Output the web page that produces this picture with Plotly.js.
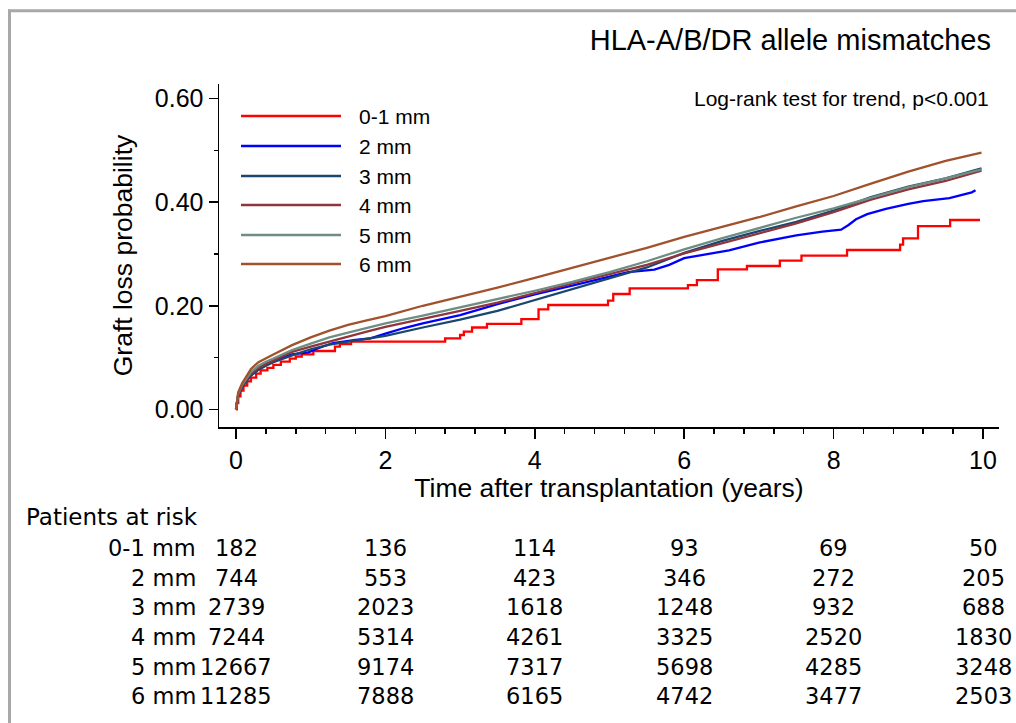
<!DOCTYPE html>
<html><head><meta charset="utf-8">
<script src="https://cdn.plot.ly/plotly-3.0.1.min.js"></script>
<style>html,body{margin:0;padding:0;background:#fff;overflow:hidden;} #chart{width:1016px;height:723px;}</style>
</head><body><div id="chart"></div>
<script>
// ---------- data ----------
const groups = ['0-1 mm', '2 mm', '3 mm', '4 mm', '5 mm', '6 mm'];
const colors = ['#ff0000', '#0000ff', '#1a476f', '#90353b', '#6e8e84', '#a0522d'];

// 0-1 mm (step function)
const t01 = [0, 0.01, 0.03, 0.06, 0.1, 0.15, 0.2, 0.27, 0.33, 0.42, 0.5, 0.6, 0.72, 0.8, 0.88, 1.035, 1.325, 1.39, 1.54, 2.80, 3.0, 3.05, 3.16, 3.36, 3.82, 4.05, 4.18, 4.98, 5.05, 5.27, 6.05, 6.17, 6.45, 6.84, 7.28, 7.57, 8.18, 8.89, 8.93, 9.13, 9.56, 9.96];
const p01 = [0, 0.012, 0.025, 0.036, 0.046, 0.054, 0.061, 0.069, 0.075, 0.080, 0.086, 0.092, 0.098, 0.102, 0.106, 0.1126, 0.121, 0.126, 0.1306, 0.137, 0.1435, 0.150, 0.158, 0.165, 0.174, 0.193, 0.2015, 0.210, 0.2227, 0.2337, 0.240, 0.2497, 0.2704, 0.2768, 0.287, 0.2967, 0.3077, 0.318, 0.330, 0.354, 0.3657, 0.3657];

// 2 mm
const t2 = [0, 0.01, 0.03, 0.08, 0.12, 0.2, 0.3, 0.4, 0.5, 0.75, 0.97, 1.1, 1.3, 1.6, 1.8, 2.0, 2.25, 2.5, 3.0, 3.5, 4.0, 4.5, 4.75, 5.0, 5.25, 5.6, 5.8, 6.0, 6.3, 6.6, 7.0, 7.5, 7.85, 8.1, 8.2, 8.3, 8.45, 8.7, 9.0, 9.2, 9.55, 9.7, 9.85, 9.9];
const p2 = [0, 0.013, 0.028, 0.043, 0.052, 0.066, 0.077, 0.086, 0.093, 0.106, 0.110, 0.118, 0.128, 0.134, 0.137, 0.146, 0.157, 0.166, 0.182, 0.203, 0.222, 0.239, 0.248, 0.256, 0.265, 0.270, 0.279, 0.292, 0.300, 0.307, 0.322, 0.336, 0.343, 0.347, 0.356, 0.367, 0.377, 0.387, 0.397, 0.402, 0.408, 0.414, 0.419, 0.423];

// 3 mm
const t3 = [0, 0.01, 0.03, 0.08, 0.12, 0.2, 0.3, 0.4, 0.5, 0.75, 1.0, 1.25, 1.5, 1.75, 2.0, 2.5, 3.0, 3.5, 4.0, 4.5, 5.0, 5.5, 6.0, 6.5, 7.0, 7.5, 8.0, 8.5, 9.0, 9.5, 9.98];
const p3 = [0, 0.012, 0.027, 0.042, 0.051, 0.065, 0.076, 0.084, 0.091, 0.104, 0.116, 0.125, 0.131, 0.137, 0.142, 0.158, 0.173, 0.190, 0.211, 0.231, 0.253, 0.274, 0.302, 0.325, 0.344, 0.362, 0.384, 0.410, 0.430, 0.446, 0.4655];

// 4 mm
const t4 = [0, 0.01, 0.03, 0.08, 0.12, 0.2, 0.3, 0.4, 0.5, 0.75, 1.0, 1.25, 1.5, 1.75, 2.0, 2.5, 3.0, 3.5, 4.0, 4.5, 5.0, 5.5, 6.0, 6.5, 7.0, 7.5, 8.0, 8.5, 9.0, 9.5, 9.98];
const p4 = [0, 0.013, 0.029, 0.045, 0.054, 0.069, 0.080, 0.088, 0.095, 0.111, 0.121, 0.131, 0.141, 0.150, 0.159, 0.174, 0.190, 0.206, 0.225, 0.243, 0.261, 0.279, 0.301, 0.320, 0.339, 0.359, 0.381, 0.405, 0.425, 0.441, 0.461];

// 5 mm
const t5 = [0, 0.01, 0.03, 0.08, 0.12, 0.2, 0.3, 0.4, 0.5, 0.75, 1.0, 1.25, 1.5, 1.75, 2.0, 2.5, 3.0, 3.5, 4.0, 4.5, 5.0, 5.5, 6.0, 6.5, 7.0, 7.5, 8.0, 8.5, 9.0, 9.5, 9.98];
const p5 = [0, 0.014, 0.031, 0.047, 0.056, 0.072, 0.084, 0.092, 0.098, 0.1145, 0.127, 0.139, 0.148, 0.157, 0.166, 0.181, 0.197, 0.212, 0.229, 0.246, 0.265, 0.286, 0.309, 0.330, 0.350, 0.370, 0.388, 0.409, 0.429, 0.446, 0.4636];

// 6 mm
const t6 = [0, 0.01, 0.03, 0.08, 0.12, 0.2, 0.3, 0.4, 0.5, 0.75, 1.0, 1.25, 1.5, 1.75, 2.0, 2.5, 3.0, 3.5, 4.0, 4.5, 5.0, 5.5, 6.0, 6.5, 7.0, 7.5, 8.0, 8.5, 9.0, 9.5, 9.98];
const p6 = [0, 0.015, 0.033, 0.050, 0.060, 0.078, 0.091, 0.099, 0.106, 0.124, 0.139, 0.152, 0.163, 0.172, 0.180, 0.200, 0.217, 0.235, 0.254, 0.273, 0.292, 0.312, 0.333, 0.352, 0.371, 0.392, 0.412, 0.436, 0.459, 0.480, 0.496];

// Patients at risk
const riskTimes = [0, 2, 4, 6, 8, 10];
const risk01 = [182, 136, 114, 93, 69, 50];
const risk2 = [744, 553, 423, 346, 272, 205];
const risk3 = [2739, 2023, 1618, 1248, 932, 688];
const risk4 = [7244, 5314, 4261, 3325, 2520, 1830];
const risk5 = [12667, 9174, 7317, 5698, 4285, 3248];
const risk6 = [11285, 7888, 6165, 4742, 3477, 2503];

// ---------- build ----------
const times = [t01, t2, t3, t4, t5, t6];
const probs = [p01, p2, p3, p4, p5, p6];
const risks = [risk01, risk2, risk3, risk4, risk5, risk6];

const FONT = 'Liberation Sans, Arial, Helvetica, sans-serif';
const TABLEFONT = 'DejaVu Sans, Liberation Sans, Arial, sans-serif';
const W = 1016, H = 723;
const L = 219, R = 999, T = 84, B = 427;
const pxX = px => (px - L) / (R - L);
const pxY = py => (B - py) / (B - T);

const traces = groups.map((g, i) => ({
  type: 'scatter', mode: 'lines', name: g,
  x: times[i], y: probs[i],
  line: {color: colors[i], width: 2.3, shape: i === 0 ? 'hv' : 'linear'},
  showlegend: false, hoverinfo: 'skip'
}));

const shapes = [];
const annotations = [];

// frame border
shapes.push({type: 'line', xref: 'paper', yref: 'paper', x0: pxX(9.5), x1: pxX(9.5), y0: pxY(9.5), y1: pxY(H + 5), line: {color: '#a8a8a8', width: 3}});
shapes.push({type: 'line', xref: 'paper', yref: 'paper', x0: pxX(8), x1: pxX(W + 5), y0: pxY(10.8), y1: pxY(10.8), line: {color: '#a8a8a8', width: 3}});

// legend
const legRows = [116, 146, 176, 205, 235, 264];
groups.forEach((g, i) => {
  shapes.push({type: 'line', xref: 'paper', yref: 'paper', x0: pxX(241), x1: pxX(341), y0: pxY(legRows[i]), y1: pxY(legRows[i]), line: {color: colors[i], width: 2.3}});
  annotations.push({xref: 'paper', yref: 'paper', x: pxX(357), y: pxY(legRows[i]), xanchor: 'left', yanchor: 'middle', text: g, showarrow: false, font: {family: FONT, size: 21, color: '#000'}});
});

// log-rank text
annotations.push({xref: 'paper', yref: 'paper', x: pxX(991), y: pxY(98), xanchor: 'right', yanchor: 'middle', text: 'Log-rank test for trend, p<0.001', showarrow: false, font: {family: FONT, size: 21, color: '#000'}});

// risk table
annotations.push({xref: 'paper', yref: 'paper', x: pxX(24), y: pxY(517), xanchor: 'left', yanchor: 'middle', text: 'Patients at risk', showarrow: false, font: {family: TABLEFONT, size: 23, color: '#000'}});
const riskRows = [548, 578, 607, 637, 667, 696];
groups.forEach((g, i) => {
  annotations.push({xref: 'paper', yref: 'paper', x: pxX(198), y: pxY(riskRows[i]), xanchor: 'right', yanchor: 'middle', text: g, showarrow: false, font: {family: TABLEFONT, size: 22.5, color: '#000'}});
  riskTimes.forEach((tt, j) => {
    annotations.push({xref: 'x', yref: 'paper', x: tt, y: pxY(riskRows[i]), xanchor: 'center', yanchor: 'middle', text: String(risks[i][j]), showarrow: false, font: {family: TABLEFONT, size: 22.5, color: '#000'}});
  });
});

const layout = {
  width: W, height: H,
  margin: {l: L, r: W - R, t: T, b: H - B, pad: 0},
  paper_bgcolor: '#fff', plot_bgcolor: '#fff',
  showlegend: false,
  title: {text: 'HLA-A/B/DR allele mismatches', xref: 'container', yref: 'container', x: 991 / W, xanchor: 'right', y: 1 - 40 / H, yanchor: 'middle', font: {family: FONT, size: 29, color: '#000'}},
  xaxis: {
    range: [(L - 236) / 74.7, (R - 236) / 74.7],
    tick0: 0, dtick: 2, ticks: 'outside', ticklen: 10, tickwidth: 1.5, tickcolor: '#000',
    minor: {dtick: 0.4, tick0: 0, ticks: 'outside', ticklen: 5, tickwidth: 1.5, tickcolor: '#000', showgrid: false},
    showline: true, linecolor: '#000', linewidth: 1.5, showgrid: false, zeroline: false,
    tickfont: {family: FONT, size: 25, color: '#000'},
    title: {text: 'Time after transplantation (years)', font: {family: FONT, size: 26.5, color: '#000'}, standoff: 5}
  },
  yaxis: {
    range: [(409.3 - B) / 517.7, (409.3 - T) / 517.7],
    tick0: 0, dtick: 0.2, tickformat: '.2f', ticks: 'outside', ticklen: 9, tickwidth: 1.5, tickcolor: '#000',
    minor: {dtick: 0.1, tick0: 0, ticks: 'outside', ticklen: 4, tickwidth: 1.5, tickcolor: '#000', showgrid: false},
    showline: true, linecolor: '#000', linewidth: 1.5, showgrid: false, zeroline: false,
    tickfont: {family: FONT, size: 25, color: '#000'},
    title: {text: 'Graft loss probability', font: {family: FONT, size: 26.5, color: '#000'}, standoff: 14}
  },
  shapes: shapes,
  annotations: annotations
};

Plotly.newPlot('chart', traces, layout, {displayModeBar: false, staticPlot: true});
</script>
</body></html>
